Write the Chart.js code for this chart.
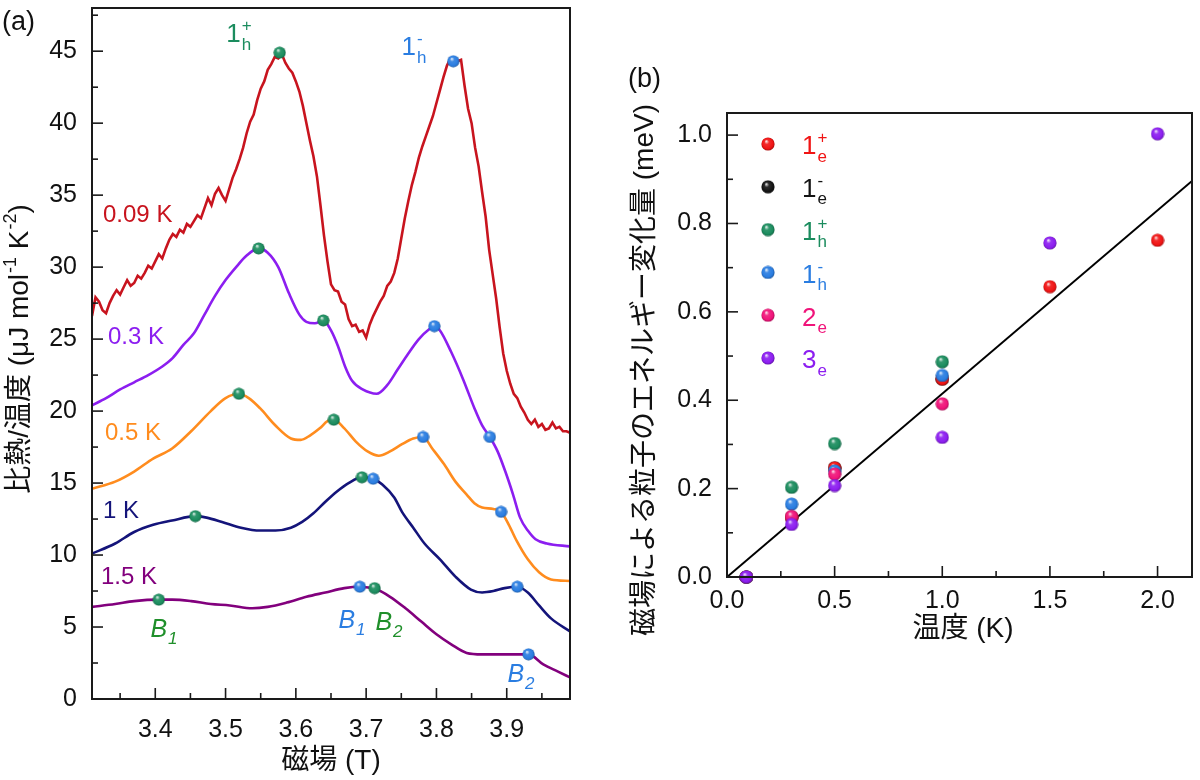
<!DOCTYPE html>
<html><head><meta charset="utf-8">
<script src="https://cdn.jsdelivr.net/npm/chart.js@4.4.1/dist/chart.umd.min.js"></script>
<style>
html,body{margin:0;padding:0;background:#fff;}
#wrap{position:relative;width:1200px;height:780px;overflow:hidden;}
#ca{position:absolute;left:0;top:0;}
#cb{position:absolute;left:600px;top:0;}
</style></head><body>
<div id="wrap">
<canvas id="ca" width="600" height="780"></canvas>
<canvas id="cb" width="600" height="780"></canvas>
</div>
<script>
// ===================== DATA : panel (a) =====================
const field009 = [3.310,3.315,3.320,3.325,3.330,3.335,3.340,3.345,3.350,3.355,3.360,3.365,3.370,3.375,3.380,3.385,3.390,3.395,3.400,3.405,3.410,3.415,3.420,3.425,3.430,3.435,3.440,3.445,3.450,3.455,3.460,3.465,3.470,3.475,3.480,3.485,3.490,3.495,3.500,3.505,3.510,3.515,3.520,3.525,3.530,3.535,3.540,3.545,3.550,3.555,3.560,3.565,3.570,3.575,3.580,3.585,3.590,3.595,3.600,3.605,3.610,3.615,3.620,3.625,3.630,3.635,3.640,3.645,3.650,3.655,3.660,3.665,3.670,3.675,3.680,3.685,3.690,3.695,3.700,3.705,3.710,3.715,3.720,3.725,3.730,3.735,3.740,3.745,3.750,3.755,3.760,3.765,3.770,3.775,3.780,3.785,3.790,3.795,3.800,3.805,3.810,3.815,3.820,3.825,3.830,3.835,3.840,3.845,3.850,3.855,3.860,3.865,3.870,3.875,3.880,3.885,3.890,3.895,3.900,3.905,3.910,3.915,3.920,3.925,3.930,3.935,3.940,3.945,3.950,3.955,3.960,3.965,3.970,3.975,3.980,3.985,3.990];
const cp009 = [26.6,27.9,27.6,27.0,26.8,27.5,28.0,28.4,28.1,28.6,29.1,28.7,28.9,29.4,29.2,29.6,30.1,29.9,30.4,30.9,30.6,31.3,31.9,32.3,32.1,32.6,32.4,33.0,32.8,33.2,33.6,33.4,34.1,34.8,34.3,35.1,35.5,35.0,34.6,35.4,36.2,36.8,37.5,38.3,39.3,40.1,40.6,41.6,42.4,42.9,43.7,44.1,44.6,44.5,44.8,44.2,43.8,43.5,42.9,42.2,41.2,40.0,38.8,37.7,36.3,34.3,32.2,30.4,28.8,28.4,28.3,27.6,27.4,26.4,25.9,26.0,25.5,25.6,25.1,26.0,26.6,27.1,27.6,28.0,28.7,29.0,29.6,30.6,32.0,33.4,34.6,35.7,36.6,37.6,38.4,39.1,39.8,40.5,41.4,42.3,43.2,44.0,44.5,44.4,44.3,44.4,42.6,41.0,40.0,38.3,37.0,35.2,33.5,31.2,29.5,27.8,25.8,24.0,22.8,21.9,21.2,20.9,20.3,19.9,19.4,19.1,19.4,18.9,19.1,18.7,18.8,19.2,18.8,18.9,18.6,18.6,18.5];

const field03 = [3.310,3.330,3.350,3.370,3.390,3.410,3.425,3.440,3.455,3.470,3.485,3.500,3.515,3.530,3.547,3.560,3.575,3.590,3.605,3.615,3.627,3.639,3.650,3.660,3.670,3.680,3.695,3.715,3.730,3.745,3.760,3.775,3.790,3.797,3.805,3.821,3.838,3.854,3.865,3.876,3.887,3.898,3.909,3.919,3.930,3.941,3.957,3.990];
const cp03 = [20.4,20.9,21.5,22.0,22.5,23.1,23.7,24.6,25.4,26.7,28.0,29.1,30.0,30.8,31.3,31.0,30.0,28.2,26.7,26.2,26.1,26.3,25.6,24.5,23.1,22.1,21.5,21.2,21.8,22.9,24.0,25.0,25.7,25.9,25.6,24.1,22.2,20.2,19.0,18.2,17.2,15.8,14.2,12.6,11.7,11.1,10.8,10.6];

const field05 = [3.310,3.343,3.370,3.397,3.424,3.451,3.479,3.500,3.519,3.533,3.549,3.571,3.593,3.607,3.620,3.634,3.645,3.654,3.669,3.685,3.702,3.718,3.734,3.751,3.767,3.781,3.794,3.811,3.827,3.843,3.854,3.865,3.881,3.892,3.903,3.914,3.930,3.946,3.963,3.990];
const cp05 = [14.6,15.1,15.8,16.7,17.4,18.6,20.0,20.9,21.2,20.9,20.2,19.0,18.1,18.0,18.3,18.8,19.3,19.4,18.8,17.9,17.2,16.9,17.2,17.7,18.1,18.2,17.4,16.3,15.1,14.2,13.6,13.3,13.2,13.0,12.1,11.0,9.7,8.8,8.3,8.2];

const field1 = [3.310,3.343,3.370,3.397,3.424,3.457,3.473,3.495,3.522,3.549,3.571,3.593,3.609,3.625,3.642,3.658,3.675,3.694,3.710,3.723,3.740,3.751,3.767,3.783,3.805,3.827,3.849,3.865,3.881,3.897,3.915,3.930,3.946,3.963,3.990];
const cp1 = [10.1,10.8,11.6,12.1,12.4,12.7,12.6,12.3,11.9,11.7,11.7,11.9,12.3,12.9,13.7,14.4,15.0,15.4,15.3,14.9,14.0,13.0,11.9,10.8,9.7,8.5,7.6,7.4,7.5,7.7,7.8,7.4,6.5,5.6,4.7];

const field15 = [3.310,3.343,3.370,3.405,3.424,3.451,3.479,3.506,3.538,3.560,3.587,3.615,3.642,3.669,3.691,3.715,3.734,3.756,3.778,3.800,3.821,3.843,3.865,3.887,3.908,3.931,3.952,3.973,3.990];
const cp15 = [6.4,6.6,6.8,6.9,6.9,6.8,6.6,6.5,6.3,6.4,6.7,7.1,7.4,7.7,7.8,7.6,7.1,6.3,5.4,4.5,3.8,3.2,3.1,3.1,3.1,3.1,2.4,1.9,1.5];

// marked peaks (green = 1h+/B1 type, blue = 1h-/B2 type)
const greenField = [3.577,3.547,3.639,3.519,3.654,3.457,3.694,3.405,3.712];
const greenVal   = [44.9,31.3,26.3,21.2,19.4,12.7,15.4,6.9,7.7];
const blueField  = [3.824,3.797,3.876,3.781,3.892,3.710,3.915,3.691,3.931];
const blueVal    = [44.3,25.9,18.2,18.2,13.0,15.3,7.8,7.8,3.1];

const xTicksA = [3.4,3.5,3.6,3.7,3.8,3.9];
const yTicksA = [0,5,10,15,20,25,30,35,40,45];

// ===================== DATA : panel (b) =====================
const tempK = [0.09,0.3,0.5,1.0,1.5,2.0];
const dE_1e_plus  = [0,0.135,0.247,0.448,0.657,0.762];
const dE_1e_minus = [0,0.135,0.247,0.448,null,null];
const dE_1h_plus  = [0,0.203,0.302,0.487,null,null];
const dE_1h_minus = [0,0.165,0.240,0.456,null,null];
const dE_2e       = [0,0.137,0.233,0.392,null,null];
const dE_3e       = [0,0.119,0.207,0.316,0.756,1.003];
const fitT = [0,2.16];
const fitE = [0,0.896];

const xTicksB = [0,0.5,1.0,1.5,2.0];
const yTicksB = [0,0.2,0.4,0.6,0.8,1.0];

// ===================== helpers =====================
const FONT = "'Liberation Sans', Arial, 'Noto Sans CJK JP', sans-serif";
function pts(xs, ys){ const o=[]; xs.forEach((x,i)=>{ if(ys[i]!==null && ys[i]!==undefined) o.push({x:x,y:ys[i]}); }); return o; }
function shade(hex, f){
  const n=parseInt(hex.slice(1),16); let r=(n>>16)&255,g=(n>>8)&255,b=n&255;
  if(f<0){ r=Math.round(r*(1+f)); g=Math.round(g*(1+f)); b=Math.round(b*(1+f)); }
  else { r=Math.round(r+(255-r)*f); g=Math.round(g+(255-g)*f); b=Math.round(b+(255-b)*f); }
  return `rgb(${r},${g},${b})`;
}
function makeBall(color, d){
  const c=document.createElement('canvas'); c.width=d; c.height=d;
  const g=c.getContext('2d'); const r=d/2;
  const grad=g.createRadialGradient(r*0.75, r*0.6, r*0.05, r, r, r);
  grad.addColorStop(0, shade(color,0.85));
  grad.addColorStop(0.3, shade(color,0.1));
  grad.addColorStop(0.75, color);
  grad.addColorStop(1, shade(color,-0.35));
  g.fillStyle=grad; g.beginPath(); g.arc(r,r,r-0.4,0,Math.PI*2); g.fill();
  return c;
}
function segWidth(ctx, seg, S, st){
  if(typeof seg==='string'){ ctx.font=`${st}${S}px ${FONT}`; return ctx.measureText(seg).width; }
  const s=Math.round(S*0.66); ctx.font=`${st}${s}px ${FONT}`;
  return Math.max(seg.sup?ctx.measureText(seg.sup).width:0, seg.sub?ctx.measureText(seg.sub).width:0)+1;
}
function drawRich(ctx, segs, x, y, S, color, align, italic){
  const st = italic ? 'italic ' : '';
  const ws = segs.map(s=>segWidth(ctx,s,S,st));
  const total = ws.reduce((a,b)=>a+b,0);
  let cx = align==='center' ? x-total/2 : (align==='right' ? x-total : x);
  const base = y + 0.36*S;
  ctx.save(); ctx.fillStyle=color; ctx.textBaseline='alphabetic'; ctx.textAlign='left';
  segs.forEach((s,i)=>{
    if(typeof s==='string'){ ctx.font=`${st}${S}px ${FONT}`; ctx.fillText(s,cx,base); }
    else {
      const sm=Math.round(S*0.66); ctx.font=`${st}${sm}px ${FONT}`;
      if(s.sup) ctx.fillText(s.sup, cx+1, base-0.42*S);
      if(s.sub) ctx.fillText(s.sub, cx+1, base+0.28*S);
    }
    cx+=ws[i];
  });
  ctx.restore();
}
function drawRotated(ctx, segs, x, y, S, color){
  ctx.save(); ctx.translate(x,y); ctx.rotate(-Math.PI/2);
  drawRich(ctx, segs, 0, 0, S, color, 'center', false);
  ctx.restore();
}

// frame + inward ticks plugin
const frameTicks = {
  id:'frameTicks',
  afterDraw(chart, args, o){
    const ctx=chart.ctx, a=chart.chartArea, xs=chart.scales.x, ys=chart.scales.y;
    ctx.save(); ctx.strokeStyle='#1a1a1a'; ctx.lineWidth=2;
    ctx.strokeRect(a.left, a.top, a.right-a.left, a.bottom-a.top);
    ctx.lineWidth=1.6;
    const tick=(v,len,axis)=>{
      ctx.beginPath();
      if(axis==='x'){ const p=xs.getPixelForValue(v); ctx.moveTo(p,a.bottom); ctx.lineTo(p,a.bottom-len); }
      else { const p=ys.getPixelForValue(v); ctx.moveTo(a.left,p); ctx.lineTo(a.left+len,p); }
      ctx.stroke();
    };
    o.xMajor.forEach(v=>tick(v,11,'x'));
    o.yMajor.forEach(v=>tick(v,11,'y'));
    for(let i=0;i<o.xMajor.length+1;i++){ const v=o.xMajor[0]+(i-0.5)*o.xStep; if(v>xs.min&&v<xs.max) tick(v,6,'x'); }
    for(let i=0;i<o.yMajor.length+1;i++){ const v=o.yMajor[0]+(i+0.5)*o.yStep; if(v>ys.min&&v<ys.max) tick(v,6,'y'); }
    ctx.restore();
  }
};

function axisCfg(min,max,ticksArr,dec,isX,fitSize,pad){
  return {
    type:'linear', min:min, max:max,
    afterBuildTicks:s=>{ s.ticks = ticksArr.map(v=>({value:v})); },
    afterFit:s=>{ if(isX) s.height=fitSize; else s.width=fitSize; s.paddingTop=0; s.paddingBottom=0; s.paddingLeft=0; s.paddingRight=0; },
    grid:{display:false, drawTicks:false}, border:{display:false},
    ticks:{ autoSkip:false, maxRotation:0, padding:pad, color:'#111', font:{family:FONT,size:25},
            callback:v=>Number(v).toFixed(dec) }
  };
}

// ===================== Chart (a) =====================
const ballG = makeBall('#1b8c5e',13), ballB = makeBall('#2a7de1',13);
const curveStyle = (c,t)=>({borderColor:c, borderWidth:2.6, pointRadius:0, fill:false, tension:t, cubicInterpolationMode:t? 'monotone':'default', order:2});

const annotA = {
  id:'annotA',
  afterDatasetsDraw(chart){
    const ctx=chart.ctx;
    drawRich(ctx,['(a)'],2,20,27,'#111','left');
    drawRich(ctx,['0.09 K'],103,213,24,'#c8141e','left');
    drawRich(ctx,['0.3 K'],108,335,24,'#8c1ef0','left');
    drawRich(ctx,['0.5 K'],105,431,24,'#ff8c1e','left');
    drawRich(ctx,['1 K'],103,509,24,'#14147a','left');
    drawRich(ctx,['1.5 K'],101,575,24,'#82007d','left');
    drawRich(ctx,['1',{sup:'+',sub:'h'}],239,33,26,'#1b8c5e','center');
    drawRich(ctx,['1',{sup:'-',sub:'h'}],414,46,26,'#2a7de1','center');
    drawRich(ctx,['B',{sub:'1'}],164,628,25,'#1f8f2a','center',true);
    drawRich(ctx,['B',{sub:'1'}],352,619,25,'#2a7de1','center',true);
    drawRich(ctx,['B',{sub:'2'}],389,621,25,'#1f8f2a','center',true);
    drawRich(ctx,['B',{sub:'2'}],521,673,25,'#2a7de1','center',true);
    drawRotated(ctx,['比熱/温度 (μJ mol',{sup:'-1'},' K',{sup:'-2'},')'],18,349,28,'#111');
    drawRich(ctx,['磁場 (T)'],331,759,28,'#111','center');
  }
};

new Chart(document.getElementById('ca'),{
  type:'line',
  data:{datasets:[
    Object.assign({data:pts(field009,cp009)},curveStyle('#c8141e',0)),
    Object.assign({data:pts(field03,cp03)},curveStyle('#8c1ef0',0.4)),
    Object.assign({data:pts(field05,cp05)},curveStyle('#ff8c1e',0.4)),
    Object.assign({data:pts(field1,cp1)},curveStyle('#14147a',0.4)),
    Object.assign({data:pts(field15,cp15)},curveStyle('#82007d',0.4)),
    {data:pts(greenField,greenVal), showLine:false, pointStyle:ballG, pointRadius:7, order:0, clip:false},
    {data:pts(blueField,blueVal), showLine:false, pointStyle:ballB, pointRadius:7, order:0, clip:false}
  ]},
  options:{
    responsive:false, animation:false, events:[],
    layout:{padding:{left:0,right:30,top:4,bottom:0}},
    plugins:{legend:{display:false}, tooltip:{enabled:false},
      frameTicks:{xMajor:xTicksA, yMajor:yTicksA, xStep:0.1, yStep:5}},
    scales:{
      x:axisCfg(3.31,3.99,xTicksA,1,true,81,16),
      y:axisCfg(0,48,yTicksA,0,false,92,15)
    }
  },
  plugins:[frameTicks, annotA]
});

// ===================== Chart (b) =====================
const colB = {r:'#f01414', k:'#141414', g:'#1b8c5e', b:'#2a7de1', p:'#f0147a', v:'#8c1ef0'};
const balls = {}; Object.keys(colB).forEach(k=>balls[k]=makeBall(colB[k],14));
const legendRows = [
  {k:'r', segs:['1',{sup:'+',sub:'e'}]},
  {k:'k', segs:['1',{sup:'-',sub:'e'}]},
  {k:'g', segs:['1',{sup:'+',sub:'h'}]},
  {k:'b', segs:['1',{sup:'-',sub:'h'}]},
  {k:'p', segs:['2',{sub:'e'}]},
  {k:'v', segs:['3',{sub:'e'}]}
];
const annotB = {
  id:'annotB',
  afterDatasetsDraw(chart){
    const ctx=chart.ctx;
    drawRich(ctx,['(b)'],28,77,27,'#111','left');
    legendRows.forEach((row,i)=>{
      const y=144+42.8*i;
      ctx.drawImage(balls[row.k],168-7,y-7);
      drawRich(ctx,row.segs,202,y+1,26,colB[row.k],'left');
    });
    drawRotated(ctx,['磁場による粒子のエネルギー変化量 (meV)'],43,370,28,'#111');
    drawRich(ctx,['温度 (K)'],363,627,28,'#111','center');
  }
};
const ptB = (k,ord)=>({showLine:false, pointStyle:balls[k], pointRadius:7, order:ord, clip:false});
new Chart(document.getElementById('cb'),{
  type:'line',
  data:{datasets:[
    Object.assign({data:pts(tempK,dE_1e_plus)},ptB('r',6)),
    Object.assign({data:pts(tempK,dE_1e_minus)},ptB('k',7)),
    Object.assign({data:pts(tempK,dE_1h_plus)},ptB('g',5)),
    Object.assign({data:pts(tempK,dE_1h_minus)},ptB('b',4)),
    Object.assign({data:pts(tempK,dE_2e)},ptB('p',3)),
    Object.assign({data:pts(tempK,dE_3e)},ptB('v',2)),
    {data:pts(fitT,fitE), borderColor:'#000', borderWidth:2, pointRadius:0, tension:0, order:10}
  ]},
  options:{
    responsive:false, animation:false, events:[],
    layout:{padding:{left:0,right:4,top:113,bottom:120}},
    plugins:{legend:{display:false}, tooltip:{enabled:false},
      frameTicks:{xMajor:xTicksB, yMajor:yTicksB, xStep:0.5, yStep:0.2}},
    scales:{
      x:axisCfg(0,2.16,xTicksB,1,true,83,9),
      y:axisCfg(0,1.05,yTicksB,1,false,127,15)
    }
  },
  plugins:[frameTicks, annotB]
});
</script>
</body></html>
